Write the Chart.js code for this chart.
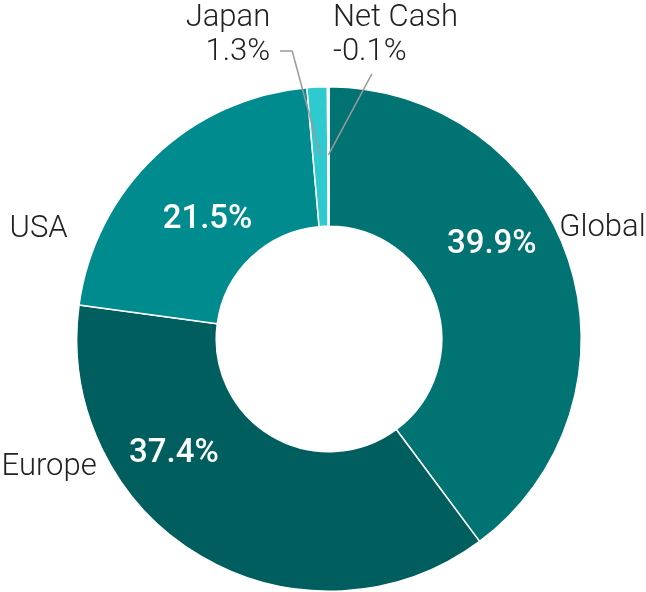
<!DOCTYPE html>
<html>
<head>
<meta charset="utf-8">
<script src="https://cdn.jsdelivr.net/npm/chart.js@4"></script>
<style>
  html, body { margin: 0; padding: 0; background: #fff; }
  #wrap { width: 646px; height: 592px; }
</style>
</head>
<body>
<div id="wrap"><canvas id="chart" width="646" height="592"></canvas></div>
<script>
// data
const regions = ['Global', 'Europe', 'USA', 'Japan', 'Net Cash'];
const weights = [39.9, 37.4, 21.5, 1.3, -0.1];
const colours = ['#007372', '#005f5e', '#008b8f', '#2ecad0', '#ffffff'];

const labelFont = '300 31px Roboto, "Liberation Sans", sans-serif';
const pctFont = '500 33px Roboto, "Liberation Sans", sans-serif';

function fmt(v) { return v.toFixed(1) + '%'; }

// label placement, relative to chart centre, in units of outer radius
// inner: [angle deg from top, radius fraction]; outer: [dx, dy, align]
const innerSpots = { 'Global': [60, 0.745], 'Europe': [233.5, 0.765], 'USA': [314.5, 0.675] };
const outerSpots = { 'Global': [0.913, -0.44, 'left'], 'USA': [-1.036, -0.436, 'right'], 'Europe': [-0.921, 0.51, 'right'] };

const labelPlugin = {
  id: 'sliceLabels',
  afterDatasetsDraw(chart) {
    const ctx = chart.ctx;
    const meta = chart.getDatasetMeta(0);
    const arc0 = meta.data[0];
    const cx = arc0.x, cy = arc0.y, R = arc0.outerRadius;
    ctx.save();
    ctx.textBaseline = 'middle';

    // white percentages inside the big slices
    ctx.fillStyle = '#ffffff';
    ctx.font = pctFont;
    ctx.textAlign = 'center';
    regions.forEach((name, i) => {
      const s = innerSpots[name];
      if (!s) return;
      const a = s[0] * Math.PI / 180;
      ctx.fillText(fmt(weights[i]), cx + Math.sin(a) * s[1] * R, cy - Math.cos(a) * s[1] * R);
    });

    // region names outside
    ctx.fillStyle = '#222222';
    ctx.font = labelFont;
    regions.forEach((name) => {
      const s = outerSpots[name];
      if (!s) return;
      ctx.textAlign = s[2];
      ctx.fillText(name, cx + s[0] * R, cy + s[1] * R);
    });

    // small slices: two-line labels with leader lines
    function midPoint(i, frac) {
      const el = meta.data[i];
      const a = (el.startAngle + el.endAngle) / 2;
      return [cx + Math.cos(a) * R * frac, cy + Math.sin(a) * R * frac];
    }
    ctx.strokeStyle = '#9a9a9a';
    ctx.lineWidth = 1.5;

    const jp = regions.indexOf('Japan');
    const p1 = midPoint(jp, 0.73);
    ctx.beginPath();
    ctx.moveTo(p1[0], p1[1]);
    ctx.lineTo(cx - 0.146 * R, cy - 1.142 * R);
    ctx.lineTo(cx - 0.194 * R, cy - 1.142 * R);
    ctx.stroke();
    ctx.textAlign = 'right';
    ctx.fillText(regions[jp], cx - 0.233 * R, cy - 1.271 * R);
    ctx.fillText(fmt(weights[jp]), cx - 0.233 * R, cy - 1.138 * R);

    const nc = regions.indexOf('Net Cash');
    const p2 = midPoint(nc, 0.73);
    ctx.beginPath();
    ctx.moveTo(p2[0], p2[1]);
    ctx.lineTo(cx + 0.17 * R, cy - 1.051 * R);
    ctx.stroke();
    ctx.textAlign = 'left';
    ctx.fillText(regions[nc], cx + 0.016 * R, cy - 1.271 * R);
    ctx.fillText(fmt(weights[nc]), cx + 0.016 * R, cy - 1.138 * R);

    ctx.restore();
  }
};

new Chart(document.getElementById('chart').getContext('2d'), {
  type: 'doughnut',
  data: {
    labels: regions,
    datasets: [{
      data: weights,
      backgroundColor: colours,
      borderColor: '#ffffff',
      borderWidth: 1.5
    }]
  },
  options: {
    responsive: false,
    animation: false,
    cutout: '44.7%',
    layout: { padding: { top: 86, bottom: 0, left: 76, right: 64 } },
    plugins: {
      legend: { display: false },
      tooltip: { enabled: false }
    }
  },
  plugins: [labelPlugin]
});
</script>
</body>
</html>
